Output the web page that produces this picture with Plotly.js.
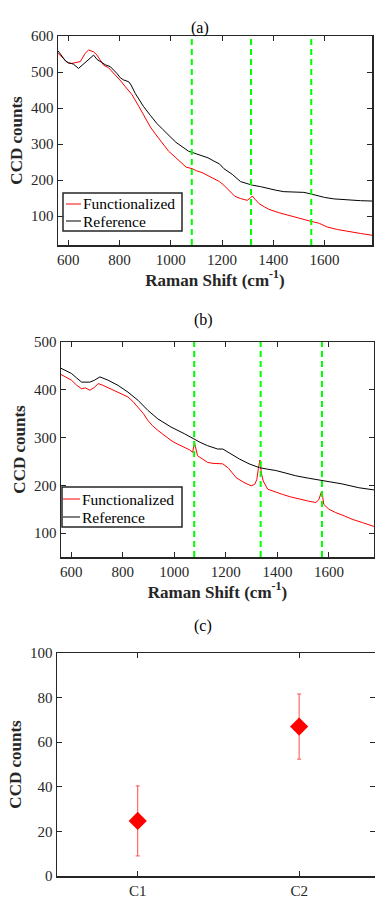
<!DOCTYPE html>
<html>
<head>
<meta charset="utf-8">
<script src="https://cdn.plot.ly/plotly-3.0.1.min.js"></script>
<style>
html,body{margin:0;padding:0;background:#fff;overflow:hidden;}
#chart{width:375px;height:899px;}
</style>
</head>
<body>
<div id="chart"></div>
<script>
// ---------- Panel (a) data ----------
const aFuncX = [560,580,601,614,630,647,666,679,699,712,725,738,757,784,805,823,848,875,901,920,940,965,992,1020,1044,1060,1083,1100,1122,1145,1168,1190,1207,1230,1250,1272,1285,1298,1310,1318,1330,1344,1365,1383,1420,1454,1500,1545,1580,1610,1650,1702,1740,1786];
const aFuncY = [552,537,524,524,526,529,552,561,556,547,533,519,512,492,475,459,438,405,370,348,328,304,280,262,246,236,232,226,221,213,205,196,186,170,155,149,146,144,150,156,146,135,126,119,110,103,95,86,80,70,63,56,52,47];
const aRefX  = [560,575,590,601,620,640,655,666,680,699,712,730,745,764,777,790,803,816,836,845,862,880,894,920,946,970,998,1020,1044,1070,1095,1122,1145,1168,1190,1207,1240,1272,1295,1318,1350,1376,1410,1441,1480,1519,1545,1571,1600,1636,1670,1702,1740,1786];
const aRefY  = [559,545,530,526,522,510,520,526,535,547,535,528,520,515,506,496,484,478,473,464,440,420,404,380,357,340,320,305,293,280,274,268,262,253,245,232,216,196,190,186,182,177,172,168,168,166,162,157,152,148,146,144,143,142];
const aMarkers = [1082,1313,1548];

// ---------- Panel (b) data ----------
const bFuncX = [560,580,601,620,640,655,672,690,704,720,736,755,775,800,820,840,859,880,897,915,936,960,987,1010,1039,1060,1071,1078,1090,1110,1129,1150,1168,1188,1210,1240,1270,1298,1312,1320,1326,1332,1338,1345,1362,1390,1420,1450,1484,1520,1549,1561,1568,1572,1576,1580,1600,1626,1660,1690,1730,1767,1780];
const bFuncY = [432,426,420,410,402,404,399,405,413,410,406,401,395,390,385,375,364,350,336,325,315,305,294,287,280,274,269,290,262,254,248,246,245,245,236,216,206,199,202,212,235,253,225,209,192,186,181,176,171,167,164,170,182,188,176,160,150,143,136,129,122,115,113];
const bRefX  = [560,580,601,620,640,672,690,711,743,782,820,859,897,936,987,1039,1078,1100,1129,1168,1188,1220,1253,1290,1330,1360,1394,1430,1471,1520,1568,1610,1651,1716,1767,1780];
const bRefY  = [445,440,434,425,416,416,420,427,420,409,395,378,357,339,322,308,296,290,283,276,276,265,255,245,237,234,231,226,220,215,211,207,203,195,191,190];
const bMarkers = [1077,1335,1573];

// ---------- Panel (c) data ----------
const cCats = ['C1','C2'];
const cMeans = [24.7, 67.0];
const cErrs = [15.7, 14.6];

const seriesNames = ['Functionalized','Reference'];
const seriesColors = ['#ff0000','#000000'];
const xTicks = [600,800,1000,1200,1400,1600];

// ---------- styling ----------
const FONT = 'Liberation Serif';
const AX = '#262626';
function axisStyle(extra){
  return Object.assign({
    showline:true, mirror:'allticks', linecolor:AX, linewidth:1.5,
    ticks:'inside', ticklen:5, tickwidth:1, tickcolor:AX,
    showgrid:false, zeroline:false,
    tickfont:{family:FONT, size:15, color:AX}
  }, extra);
}
const titleFont = {family:FONT, size:17, color:AX, weight:'bold'};
const H = 899, W = 375;
const fy = p => 1 - p/H;
const fx = p => p/W;

const traces = [
  {x:aFuncX, y:aFuncY, name:seriesNames[0], type:'scatter', mode:'lines', line:{color:seriesColors[0], width:1}, xaxis:'x', yaxis:'y'},
  {x:aRefX, y:aRefY, name:seriesNames[1], type:'scatter', mode:'lines', line:{color:seriesColors[1], width:1}, xaxis:'x', yaxis:'y'},
  {x:bFuncX, y:bFuncY, name:seriesNames[0], type:'scatter', mode:'lines', line:{color:seriesColors[0], width:1}, xaxis:'x2', yaxis:'y2'},
  {x:bRefX, y:bRefY, name:seriesNames[1], type:'scatter', mode:'lines', line:{color:seriesColors[1], width:1}, xaxis:'x2', yaxis:'y2'},
  {x:cCats, y:cMeans, type:'scatter', mode:'markers',
   marker:{symbol:'diamond', size:14, color:'#ff0000'},
   error_y:{type:'data', array:cErrs, visible:true, color:'#ff4d4d', thickness:1, width:2},
   xaxis:'x3', yaxis:'y3'}
];

const shapes = [];
aMarkers.forEach(v => shapes.push({type:'line', xref:'x', yref:'y domain', x0:v, x1:v, y0:0, y1:1, line:{color:'#00ff00', width:2, dash:'6px,4px'}}));
bMarkers.forEach(v => shapes.push({type:'line', xref:'x2', yref:'y2 domain', x0:v, x1:v, y0:0, y1:1, line:{color:'#00ff00', width:2, dash:'6px,4px'}}));

const annotations = [
  {text:'(a)', x:fx(200), y:fy(17), xref:'paper', yref:'paper', showarrow:false, font:{family:FONT, size:16, color:'#000'}},
  {text:'(b)', x:fx(203), y:fy(320), xref:'paper', yref:'paper', showarrow:false, font:{family:FONT, size:16, color:'#000'}},
  {text:'(c)', x:fx(203), y:fy(637), xref:'paper', yref:'paper', showarrow:false, font:{family:FONT, size:16, color:'#000'}}
];

// Legend boxes (MATLAB-style compact legend), drawn in paper coordinates
function addLegend(box, rows, lineX0, lineX1, textX){
  shapes.push({type:'rect', xref:'paper', yref:'paper', x0:fx(box[0]), x1:fx(box[1]), y0:fy(box[3]), y1:fy(box[2]),
    fillcolor:'#ffffff', line:{color:AX, width:1.5}, layer:'above'});
  seriesNames.forEach((nm, i) => {
    shapes.push({type:'line', xref:'paper', yref:'paper', x0:fx(lineX0), x1:fx(lineX1), y0:fy(rows[i]), y1:fy(rows[i]),
      line:{color:seriesColors[i], width:1}, layer:'above'});
    annotations.push({text:nm, x:fx(textX), y:fy(rows[i]), xref:'paper', yref:'paper', xanchor:'left', yanchor:'middle',
      showarrow:false, font:{family:FONT, size:15.5, color:'#000'}});
  });
}
addLegend([63,182,193,231], [204,221], 66, 81, 81);
addLegend([62,182,487,527], [499,517], 63, 80, 80);

const layout = {
  width:W, height:H,
  margin:{l:0, r:0, t:0, b:0},
  paper_bgcolor:'#fff', plot_bgcolor:'#fff',
  font:{family:FONT, color:AX},
  showlegend:false,
  xaxis: axisStyle({domain:[fx(58), fx(372)], range:[560,1785], tickvals:xTicks, anchor:'y',
    title:{text:'Raman Shift (cm<sup>-1</sup>)', font:titleFont, standoff:6}}),
  yaxis: axisStyle({domain:[fy(245), fy(36)], range:[20,600], tickvals:[100,200,300,400,500,600], anchor:'x',
    title:{text:'CCD counts', font:titleFont, standoff:4}}),
  xaxis2: axisStyle({domain:[fx(61), fx(374)], range:[560,1775], tickvals:xTicks, anchor:'y2',
    title:{text:'Raman Shift (cm<sup>-1</sup>)', font:titleFont, standoff:6}}),
  yaxis2: axisStyle({domain:[fy(557), fy(342)], range:[50,500], tickvals:[100,200,300,400,500], anchor:'x2',
    title:{text:'CCD counts', font:titleFont, standoff:4}}),
  xaxis3: axisStyle({domain:[fx(57), 1], type:'category', range:[-0.5,1.47], anchor:'y3'}),
  yaxis3: axisStyle({domain:[fy(876), fy(653)], range:[0,100], tickvals:[0,20,40,60,80,100], anchor:'x3',
    title:{text:'CCD counts', font:titleFont, standoff:4}}),
  shapes: shapes,
  annotations: annotations
};

Plotly.newPlot('chart', traces, layout, {displayModeBar:false, staticPlot:true});
</script>
</body>
</html>
